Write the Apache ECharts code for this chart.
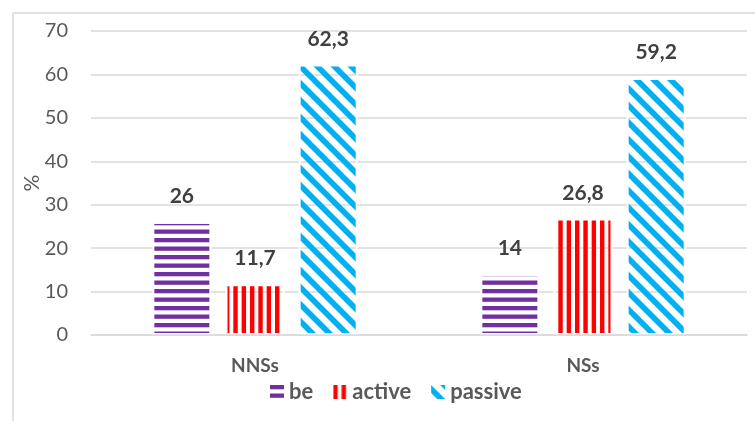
<!DOCTYPE html>
<html>
<head>
<meta charset="utf-8">
<script src="https://cdn.jsdelivr.net/npm/echarts@6/dist/echarts.min.js"></script>
<style>
html,body{margin:0;padding:0;background:#fff;}
#c{width:755px;height:421px;}
</style>
</head>
<body>
<div id="c"></div>
<script>
var categories = ['NNSs', 'NSs'];
var seriesNames = ['be', 'active', 'passive'];
var beValues = [26, 14];
var activeValues = [11.7, 26.8];
var passiveValues = [62.3, 59.2];
var yTicks = [0, 10, 20, 30, 40, 50, 60, 70];

function makeHorizontal(color) {
  var c = document.createElement('canvas');
  c.width = 4; c.height = 17;
  var g = c.getContext('2d');
  g.fillStyle = color;
  g.fillRect(0, 0, 4, 4.3);
  g.fillRect(0, 8.5, 4, 4.3);
  return c;
}
function makeVertical(color) {
  var c = document.createElement('canvas');
  c.width = 25; c.height = 4;
  var g = c.getContext('2d');
  g.fillStyle = color;
  for (var i = 0; i < 3; i++) g.fillRect(i * 25 / 3, 0, 4.4, 4);
  return c;
}
function makeDiagonal(color) {
  var W = 17, H = 17, t = 8;
  var c = document.createElement('canvas');
  c.width = W; c.height = H;
  var g = c.getContext('2d');
  g.fillStyle = color;
  for (var k = -2; k <= 1; k++) {
    g.beginPath();
    g.moveTo(0, k * H);
    g.lineTo(W, k * H + H);
    g.lineTo(W, k * H + H + t);
    g.lineTo(0, k * H + t);
    g.closePath();
    g.fill();
  }
  return c;
}

var patterns = [
  { image: makeHorizontal('#7030a0'), repeat: 'repeat' },
  { image: makeVertical('#ff0000'), repeat: 'repeat' },
  { image: makeDiagonal('#00b0f0'), repeat: 'repeat' }
];
var allValues = [beValues, activeValues, passiveValues];

var font = 'Lato, "Open Sans", sans-serif';

var chart = echarts.init(document.getElementById('c'), null, { renderer: 'canvas' });
chart.setOption({
  animation: false,
  backgroundColor: '#fff',
  graphic: [{
    type: 'rect', left: 10.5, top: 10.5,
    shape: { width: 800, height: 500 },
    style: { fill: 'none', stroke: '#d9d9d9', lineWidth: 1.5 },
    silent: true, z: -1
  }],
  grid: { left: 91, right: 8, top: 31, bottom: 86, containLabel: false },
  legend: {
    data: seriesNames,
    top: 376,
    left: 265,
    itemWidth: 14, itemHeight: 14, itemGap: 20,
    icon: 'rect',
    itemStyle: { borderWidth: 0 },
    textStyle: { fontFamily: font, fontWeight: 'bold', fontSize: 22, color: '#595959' }
  },
  xAxis: {
    type: 'category',
    data: categories,
    z: 3,
    axisLine: { show: true, lineStyle: { color: '#d9d9d9', width: 1.5 } },
    axisTick: { show: false },
    axisLabel: { fontFamily: font, fontWeight: 'bold', fontSize: 19, color: '#595959', margin: 21 }
  },
  yAxis: {
    type: 'value',
    min: 0, max: 70, interval: 10,
    name: '%',
    nameLocation: 'middle',
    nameGap: 48,
    nameMoveOverlap: false,
    nameRotate: 90,
    nameTextStyle: { fontFamily: font, fontSize: 21, color: '#595959' },
    axisLine: { show: false },
    axisTick: { show: false },
    splitLine: { lineStyle: { color: '#d9d9d9', width: 1.5 } },
    axisLabel: {
      fontFamily: font, fontSize: 20, color: '#595959', margin: 23,
      formatter: function (v) { return yTicks.indexOf(v) >= 0 ? String(v) : ''; }
    }
  },
  series: seriesNames.map(function (name, i) {
    return {
      name: name,
      type: 'bar',
      data: allValues[i],
      barWidth: 59,
      barGap: '24%',
      itemStyle: { color: patterns[i], borderColor: '#ffffff', borderWidth: 2 },
      label: {
        show: true, position: 'top', distance: 15,
        fontFamily: font, fontWeight: 'bold', fontSize: 21, color: '#404040',
        formatter: function (p) { return String(p.value).replace('.', ','); }
      }
    };
  })
});
</script>
</body>
</html>
